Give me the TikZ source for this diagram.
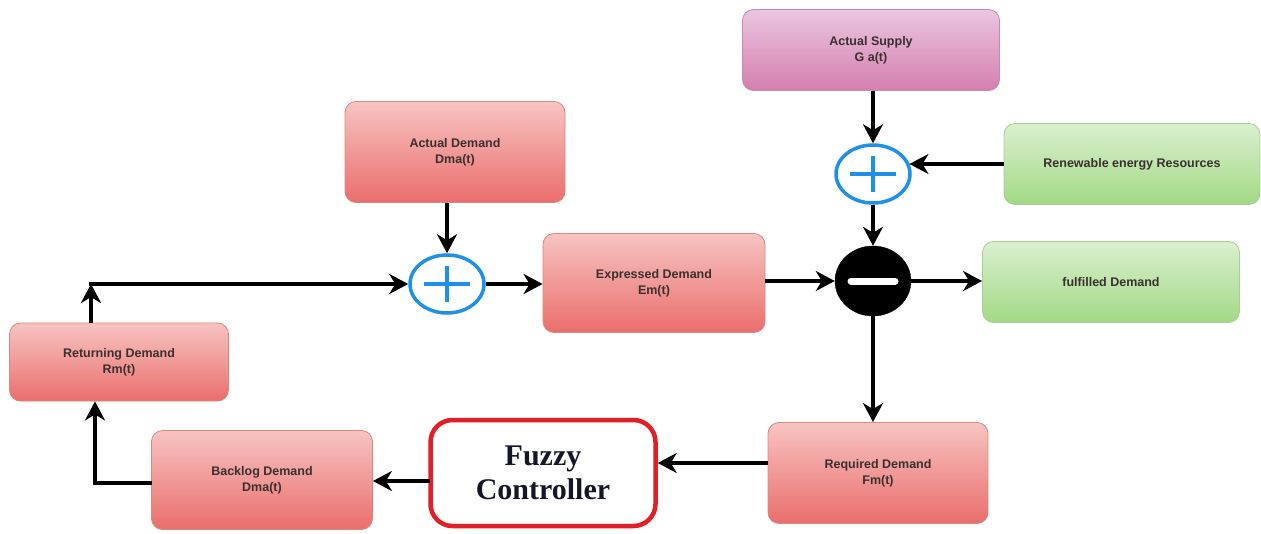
\documentclass[tikz,border=0pt]{standalone}
\usepackage{fontspec}
\setmainfont{Liberation Serif}
\setsansfont{Liberation Sans}
\usetikzlibrary{arrows.meta,shapes.geometric,calc}

\definecolor{redtop}{HTML}{F7C4C2}
\definecolor{redbot}{HTML}{EA6E6C}
\definecolor{redline}{HTML}{D9897F}
\definecolor{pinktop}{HTML}{EBC6E0}
\definecolor{pinkbot}{HTML}{D47FAE}
\definecolor{pinkline}{HTML}{C58AAD}
\definecolor{greentop}{HTML}{DAF0CF}
\definecolor{greenbot}{HTML}{A2D985}
\definecolor{greenline}{HTML}{A9CF98}
\definecolor{txt}{HTML}{3A3030}
\definecolor{sumblue}{HTML}{1E8FEA}
\definecolor{fuzzyred}{HTML}{E41E26}
\definecolor{fuzzytxt}{HTML}{16162A}

\tikzset{
  x=1pt, y=-1pt,
  blockbase/.style={rounded corners=11pt, line width=0.8pt, align=center,
    font=\sffamily\bfseries\fontsize{12.5}{16}\selectfont, text=txt,
    inner sep=0pt},
  redblock/.style={blockbase, draw=redline, top color=redtop, bottom color=redbot},
  pinkblock/.style={blockbase, draw=pinkline, top color=pinktop, bottom color=pinkbot},
  greenblock/.style={blockbase, draw=greenline, top color=greentop, bottom color=greenbot},
  sumnode/.style={ellipse, draw=sumblue, line width=3.5pt, fill=white,
    minimum width=74pt, minimum height=58pt, inner sep=0pt},
  diffnode/.style={ellipse, fill=black, draw=black,
    minimum width=76pt, minimum height=70pt, inner sep=0pt},
  flow/.style={line width=4pt, draw=black,
    -{Stealth[length=19pt,width=20pt,inset=6pt]}},
  ctrl/.style={rounded corners=22pt, draw=fuzzyred, line width=4.5pt, fill=white,
    align=center, text=fuzzytxt, font=\bfseries\fontsize{30}{34}\selectfont,
    minimum width=225pt, minimum height=106pt, inner sep=0pt},
}

\newcommand{\plussign}[1]{%
  \draw[sumblue, line width=3.5pt] ($(#1)+(-23,0)$) -- ($(#1)+(23,0)$);
  \draw[sumblue, line width=3.5pt] ($(#1)+(0,-18)$) -- ($(#1)+(0,18)$);}

\begin{document}
\begin{tikzpicture}
\useasboundingbox[fill=white] (0,0) rectangle (1261,533);

% demand side blocks
\node[redblock, minimum width=220pt, minimum height=101pt] (actdem) at (455,152)
  {Actual Demand\\Dma(t)};
\node[redblock, minimum width=222pt, minimum height=99pt] (expdem) at (654,283)
  {Expressed Demand\\Em(t)};
\node[redblock, minimum width=219pt, minimum height=78pt] (retdem) at (119,362)
  {Returning Demand\\Rm(t)};
\node[redblock, minimum width=221pt, minimum height=99pt] (backdem) at (262,480)
  {Backlog Demand\\Dma(t)};
\node[redblock, minimum width=220pt, minimum height=101pt] (reqdem) at (878,473)
  {Required Demand\\Fm(t)};

% supply side blocks
\node[pinkblock, minimum width=257pt, minimum height=81pt] (supply) at (871,50)
  {Actual Supply\\G a(t)};
\node[greenblock, minimum width=256pt, minimum height=81pt] (renew) at (1132,164)
  {Renewable energy Resources};
\node[greenblock, minimum width=257pt, minimum height=81pt] (fulfil) at (1111,282)
  {fulfilled Demand};

% controller
\node[ctrl] (fuzzy) at (543,473) {Fuzzy\\Controller};

% summing junctions
\node[sumnode] (sumA) at (447,284) {};
\plussign{sumA}
\node[sumnode] (sumB) at (873,174) {};
\plussign{sumB}
\node[diffnode] (diff) at (873,281) {};
\draw[white, line width=7pt, line cap=round] ($(diff)+(-22,0)$) -- ($(diff)+(22,0)$);

% connectors
\draw[flow] (actdem.south -| sumA) -- (sumA.north);
\draw[flow] (sumA.east) -- (sumA.east -| expdem.west);
\draw[flow] (expdem.east |- diff) -- (diff.west);
\draw[flow] (supply.south -| sumB) -- (sumB.north);
\draw[flow] (renew.west) -- (renew.west -| sumB.16);
\draw[flow] (sumB.south) -- (diff.north);
\draw[flow] (diff.east) -- (diff.east -| fulfil.west);
\draw[flow] (diff.south) -- (reqdem.north -| diff);
\coordinate (rq) at (768,463);
\draw[flow] (rq) -- (rq -| fuzzy.east);
\coordinate (fz) at (430,481);
\draw[flow] (fz) -- (fz -| backdem.east);
\coordinate (bl) at (152,483);
\coordinate (blc) at (95,483);
\draw[flow] (bl) -- (blc) -- (blc |- retdem.south);
\coordinate (rtc) at (91,284);
\draw[flow] (rtc |- retdem.north) -- (rtc);
\draw[flow] ($(rtc)+(-2,0)$) -- (sumA.west);
\end{tikzpicture}
\end{document}
